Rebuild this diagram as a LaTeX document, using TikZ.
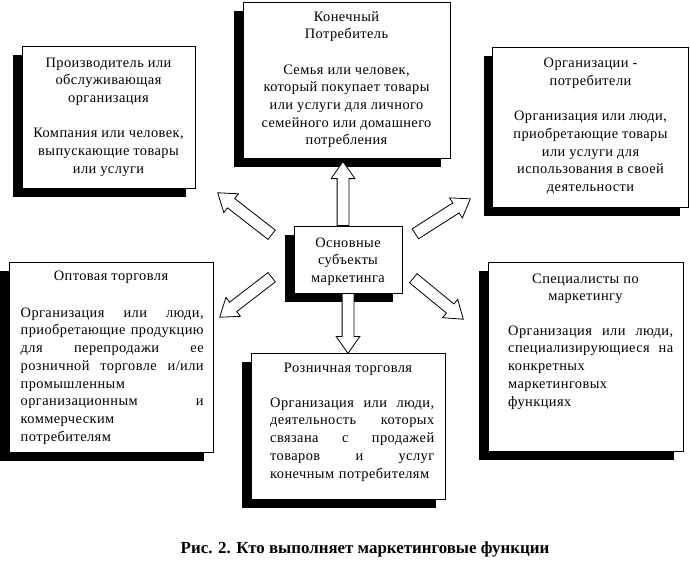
\documentclass[tikz,border=0pt]{standalone}
\usepackage{fontspec}
\setmainfont{Liberation Serif}
\newfontfamily\bodyfont[LetterSpace=3]{Liberation Serif}
\usetikzlibrary{shapes.arrows,shadows,calc}
\tikzset{
 box/.style={draw=black, line width=0.9pt, fill=white, inner sep=0pt,
   drop shadow={shadow xshift=-9pt, shadow yshift=-8.5pt, fill=black, opacity=1}},
 txt/.style={inner sep=0pt, anchor=north, font=\bodyfont\fontsize{14.4}{17.7}\selectfont},
 ctxt/.style={txt, align=center},
 jtxt/.style={txt, align=left, anchor=north west},
 blockarr/.style={single arrow, draw=black, line width=0.8pt, fill=white,
   inner xsep=0pt, inner ysep=5.5pt, single arrow head extend=6pt,
   single arrow tip angle=70, minimum width=0pt, anchor=tail}
}
\newcommand\blockarrow[3]{\path let \p1=($(#3)-(#2)$), \n1={atan2(\y1,\x1)},
  \n2={veclen(\x1,\y1)} in (#2) node[blockarr, minimum height=\n2, rotate=\n1] (#1) {};}
\begin{document}
\begin{tikzpicture}[x=1pt,y=-1pt]
\useasboundingbox (0,0) rectangle (690,563);
% boxes
\node[box, minimum width=173, minimum height=142] (prod) at (108.5,117) {};
\node[box, minimum width=207, minimum height=156] (kp) at (346.5,80) {};
\node[box, minimum width=196, minimum height=160] (org) at (590.5,127) {};
\node[box, minimum width=204, minimum height=190] (opt) at (111,357) {};
\node[box, minimum width=194, minimum height=146] (roz) at (348,426) {};
\node[box, minimum width=195, minimum height=189] (spec) at (585.5,356.5) {};
\node[box, minimum width=108, minimum height=67] (c) at (348,259.5) {};
% texts
\node[ctxt] (prodT) at (108.5,57.5) {Производитель или\\обслуживающая\\организация\\[17.7pt]Компания или человек,\\выпускающие товары\\или услуги};
\node[ctxt] (kpT) at (346.5,11) {Конечный\\Потребитель\\[17.7pt]Семья или человек,\\который покупает товары\\или услуги для личного\\семейного или домашнего\\потребления};
\node[ctxt] (orgT) at (590.5,58) {Организации -\\потребители\\[17.7pt]Организация или люди,\\приобретающие товары\\или услуги для\\использования в своей\\деятельности};
\node[ctxt] (optT) at (111,270.5) {Оптовая торговля};
\node[jtxt, text width=183] (optB) at (20.5,307.5) {Организация\hfill или\hfill люди,\\
приобретающие\hfill продукцию\\
для\hfill перепродажи\hfill ее\\
розничной\hfill торговле\hfill и/или\\
промышленным\\
организационным\hfill и\\
коммерческим\\
потребителям};
\node[ctxt] (rozT) at (348,362.5) {Розничная торговля};
\node[jtxt, text width=164] (rozB) at (270,397.5) {Организация\hfill или\hfill люди,\\
деятельность\hfill которых\\
связана\hfill с\hfill продажей\\
товаров\hfill и\hfill услуг\\
конечным потребителям};
\node[ctxt] (specT) at (585.5,273.5) {Специалисты по\\маркетингу};
\node[jtxt, text width=165] (specB) at (508,325.5) {Организация\hfill или\hfill люди,\\
специализирующиеся\hfill на\\
конкретных\\
маркетинговых\\
функциях};
\node[ctxt] (cT) at (348,237.5) {Основные\\субъекты\\маркетинга};
% arrow end points
\coordinate (upA) at (343,226);   \coordinate (upB) at (343,162);
\coordinate (dnA) at (348,293);   \coordinate (dnB) at (348,353);
\coordinate (ulA) at (272,235);   \coordinate (ulB) at (218,193);
\coordinate (urA) at (415,234);   \coordinate (urB) at (470,199);
\coordinate (llA) at (272,277);   \coordinate (llB) at (220,317);
\coordinate (lrA) at (413,278);   \coordinate (lrB) at (463,319);
\blockarrow{aup}{upA}{upB}
\blockarrow{adn}{dnA}{dnB}
\blockarrow{aul}{ulA}{ulB}
\blockarrow{aur}{urA}{urB}
\blockarrow{all}{llA}{llB}
\blockarrow{alr}{lrA}{lrB}
% caption
\node[font=\bfseries\fontsize{16.9}{19}\selectfont, inner sep=0pt] (cap) at (365,549) {Рис. 2. Кто выполняет маркетинговые функции};
\end{tikzpicture}
\end{document}
